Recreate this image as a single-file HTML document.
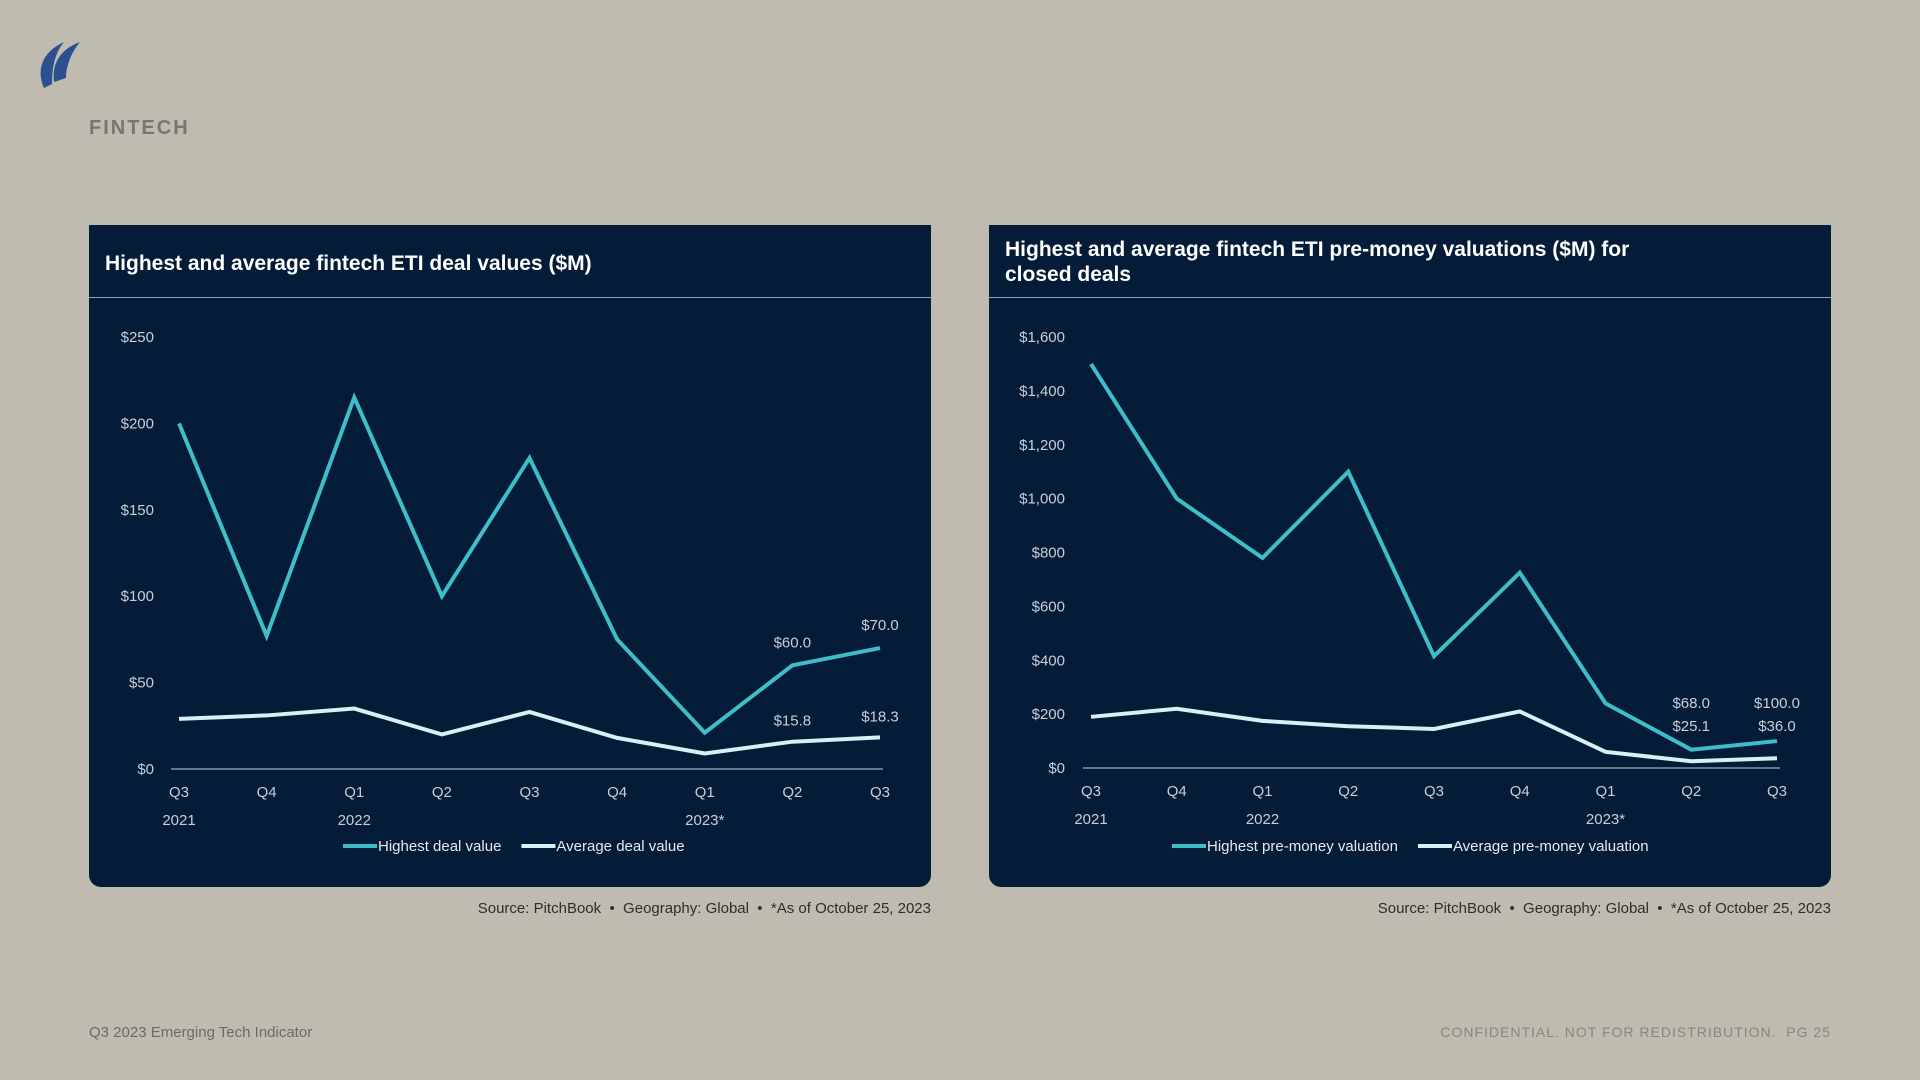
<!DOCTYPE html>
<html><head><meta charset="utf-8"><style>
body{margin:0;width:1920px;height:1080px;background:#bfbbb0;font-family:"Liberation Sans",sans-serif;position:relative;overflow:hidden}
.abs{position:absolute}
.panel{position:absolute;top:225px;width:842px;height:662px;background:#041c38;border-radius:0 0 12px 12px}
.ptitle{position:absolute;left:16px;color:#fff;font-weight:bold;font-size:21px;line-height:25px}
.hline{position:absolute;left:0;right:0;top:72px;height:1px;background:#8aa3b8}
.src{position:absolute;top:900px;font-size:15px;color:#2e2e2e;text-align:right;width:842px;font-family:"Liberation Sans Narrow","Liberation Sans",sans-serif}
svg text{font-family:"Liberation Sans Narrow","Liberation Sans",sans-serif}
</style></head><body>
<svg class="abs" style="left:36px;top:40px" width="50" height="50" viewBox="0 0 50 50">
<path d="M8 48 C0 30 6 12 28 2 C18 14 16 30 16 44 Z" fill="#2b4f8f"/>
<path d="M18 42 C16 26 22 10 44 2 C34 14 30 28 30 38 Z" fill="#2b4f8f"/>
</svg>
<div class="abs" style="left:89px;top:117px;font-size:20px;font-weight:bold;color:#7a766d;letter-spacing:2px">FINTECH</div>

<div class="panel" style="left:89px">
<div class="ptitle" style="top:26px">Highest and average fintech ETI deal values ($M)</div>
<div class="hline"></div>
<svg id="c1" width="842" height="662" style="position:absolute;left:0;top:0"></svg>
</div>
<div class="src" style="left:89px">Source: PitchBook &nbsp;•&nbsp; Geography: Global &nbsp;•&nbsp; *As of October 25, 2023</div>

<div class="panel" style="left:989px">
<div class="ptitle" style="top:12px">Highest and average fintech ETI pre-money valuations ($M) for<br>closed deals</div>
<div class="hline"></div>
<svg id="c2" width="842" height="662" style="position:absolute;left:0;top:0"></svg>
</div>
<div class="src" style="left:989px">Source: PitchBook &nbsp;•&nbsp; Geography: Global &nbsp;•&nbsp; *As of October 25, 2023</div>

<div class="abs" style="left:89px;top:1024px;font-size:15px;color:#6e6a62">Q3 2023 Emerging Tech Indicator</div>
<div class="abs" style="right:89px;top:1024px;font-size:14px;color:#8a867d;letter-spacing:1px">CONFIDENTIAL. NOT FOR REDISTRIBUTION. &nbsp;PG 25</div>

<script>
const quarters=["Q3","Q4","Q1","Q2","Q3","Q4","Q1","Q2","Q3"];
const years=["2021","","2022","","","","2023*","",""];
const dealHighest=[200,77,215,100,180,75,21,60,70];
const dealAverage=[29,31,35,20,33,18,9,15.8,18.3];
const dealTicks=[0,50,100,150,200,250];
const dealLabelsHigh=["","","","","","","","$60.0","$70.0"];
const dealLabelsAvg=["","","","","","","","$15.8","$18.3"];
const valHighest=[1500,1000,780,1100,415,725,240,68,100];
const valAverage=[190,220,175,155,145,210,60,25.1,36];
const valTicks=[0,200,400,600,800,1000,1200,1400,1600];
const valLabelsHigh=["","","","","","","","$68.0","$100.0"];
const valLabelsAvg=["","","","","","","","$25.1","$36.0"];
const NS="http://www.w3.org/2000/svg";
function mk(svg,tag,at,txt){const e=document.createElementNS(NS,tag);for(const k in at)e.setAttribute(k,at[k]);if(txt!==undefined)e.textContent=txt;svg.appendChild(e);return e;}
function fmt(v){return "$"+v.toLocaleString("en-US");}
function draw(id,o){
 const svg=document.getElementById(id);
 const max=o.ticks[o.ticks.length-1];
 const y=v=>o.y0-(v/max)*(o.y0-o.y1);
 const x=i=>o.x0+i*(o.x1-o.x0)/(quarters.length-1);
 o.ticks.forEach(t=>{const e=mk(svg,"text",{x:o.lx,y:y(t)+5,"text-anchor":"end","font-size":15,fill:"#c9ced6"},fmt(t));
  
  });
 const ax=mk(svg,"line",{x1:x(0)-8,x2:x(8)+3,y1:o.y0,y2:o.y0,stroke:"#c9ced6","stroke-width":1});
 
 
 quarters.forEach((q,i)=>{const e=mk(svg,"text",{x:x(i),y:o.y0+28,"text-anchor":"middle","font-size":15,fill:"#c9ced6"},q);
  
  
  if(years[i]){const t=mk(svg,"text",{x:x(i),y:o.y0+56,"text-anchor":"middle","font-size":15,fill:"#c9ced6"},years[i]);
   
   }});
 [[o.avg,"#d6f1f5","average-line"],[o.high,"#3ebec8","highest-line"]].forEach(([d,c,n])=>{
  const p=mk(svg,"polyline",{points:d.map((v,i)=>x(i)+","+y(v)).join(" "),fill:"none",stroke:c,"stroke-width":4,"stroke-linejoin":"miter"});
  
  });
 let topLab=Math.max(...o.high.filter((v,i)=>o.lh[i]));
 o.lh.forEach((l,i)=>{if(!l)return;const e=mk(svg,"text",{x:x(i),y:o.stack?y(topLab)-33:y(o.high[i])-18,"text-anchor":"middle","font-size":15,fill:"#c9ced6"},l);
  
  });
 o.la.forEach((l,i)=>{if(!l)return;const e=mk(svg,"text",{x:x(i),y:o.stack?y(topLab)-10:y(o.avg[i])-16,"text-anchor":"middle","font-size":15,fill:"#c9ced6"},l);
  
  });
 let lx=o.legX;
 [[o.n1,"#3ebec8"],[o.n2,"#d6f1f5"]].forEach(([t,c],k)=>{
  const g=mk(svg,"g",{});
  
  
  mk(g,"line",{x1:lx,x2:lx+34,y1:o.legY-5,y2:o.legY-5,stroke:c,"stroke-width":4});
  const tx=mk(g,"text",{x:lx+35,y:o.legY,"font-size":15,fill:"#e6e9ee"},t);
  lx+=35+tx.getComputedTextLength()+20;});
}
draw("c1",{x0:90,x1:791,y0:544,y1:112,lx:65,ticks:dealTicks,high:dealHighest,avg:dealAverage,lh:dealLabelsHigh,la:dealLabelsAvg,n1:"Highest deal value",n2:"Average deal value",legX:254,legY:626,stack:false});
draw("c2",{x0:102,x1:788,y0:543,y1:112,lx:76,ticks:valTicks,high:valHighest,avg:valAverage,lh:valLabelsHigh,la:valLabelsAvg,n1:"Highest pre-money valuation",n2:"Average pre-money valuation",legX:183,legY:626,stack:true});
</script>
</body></html>
